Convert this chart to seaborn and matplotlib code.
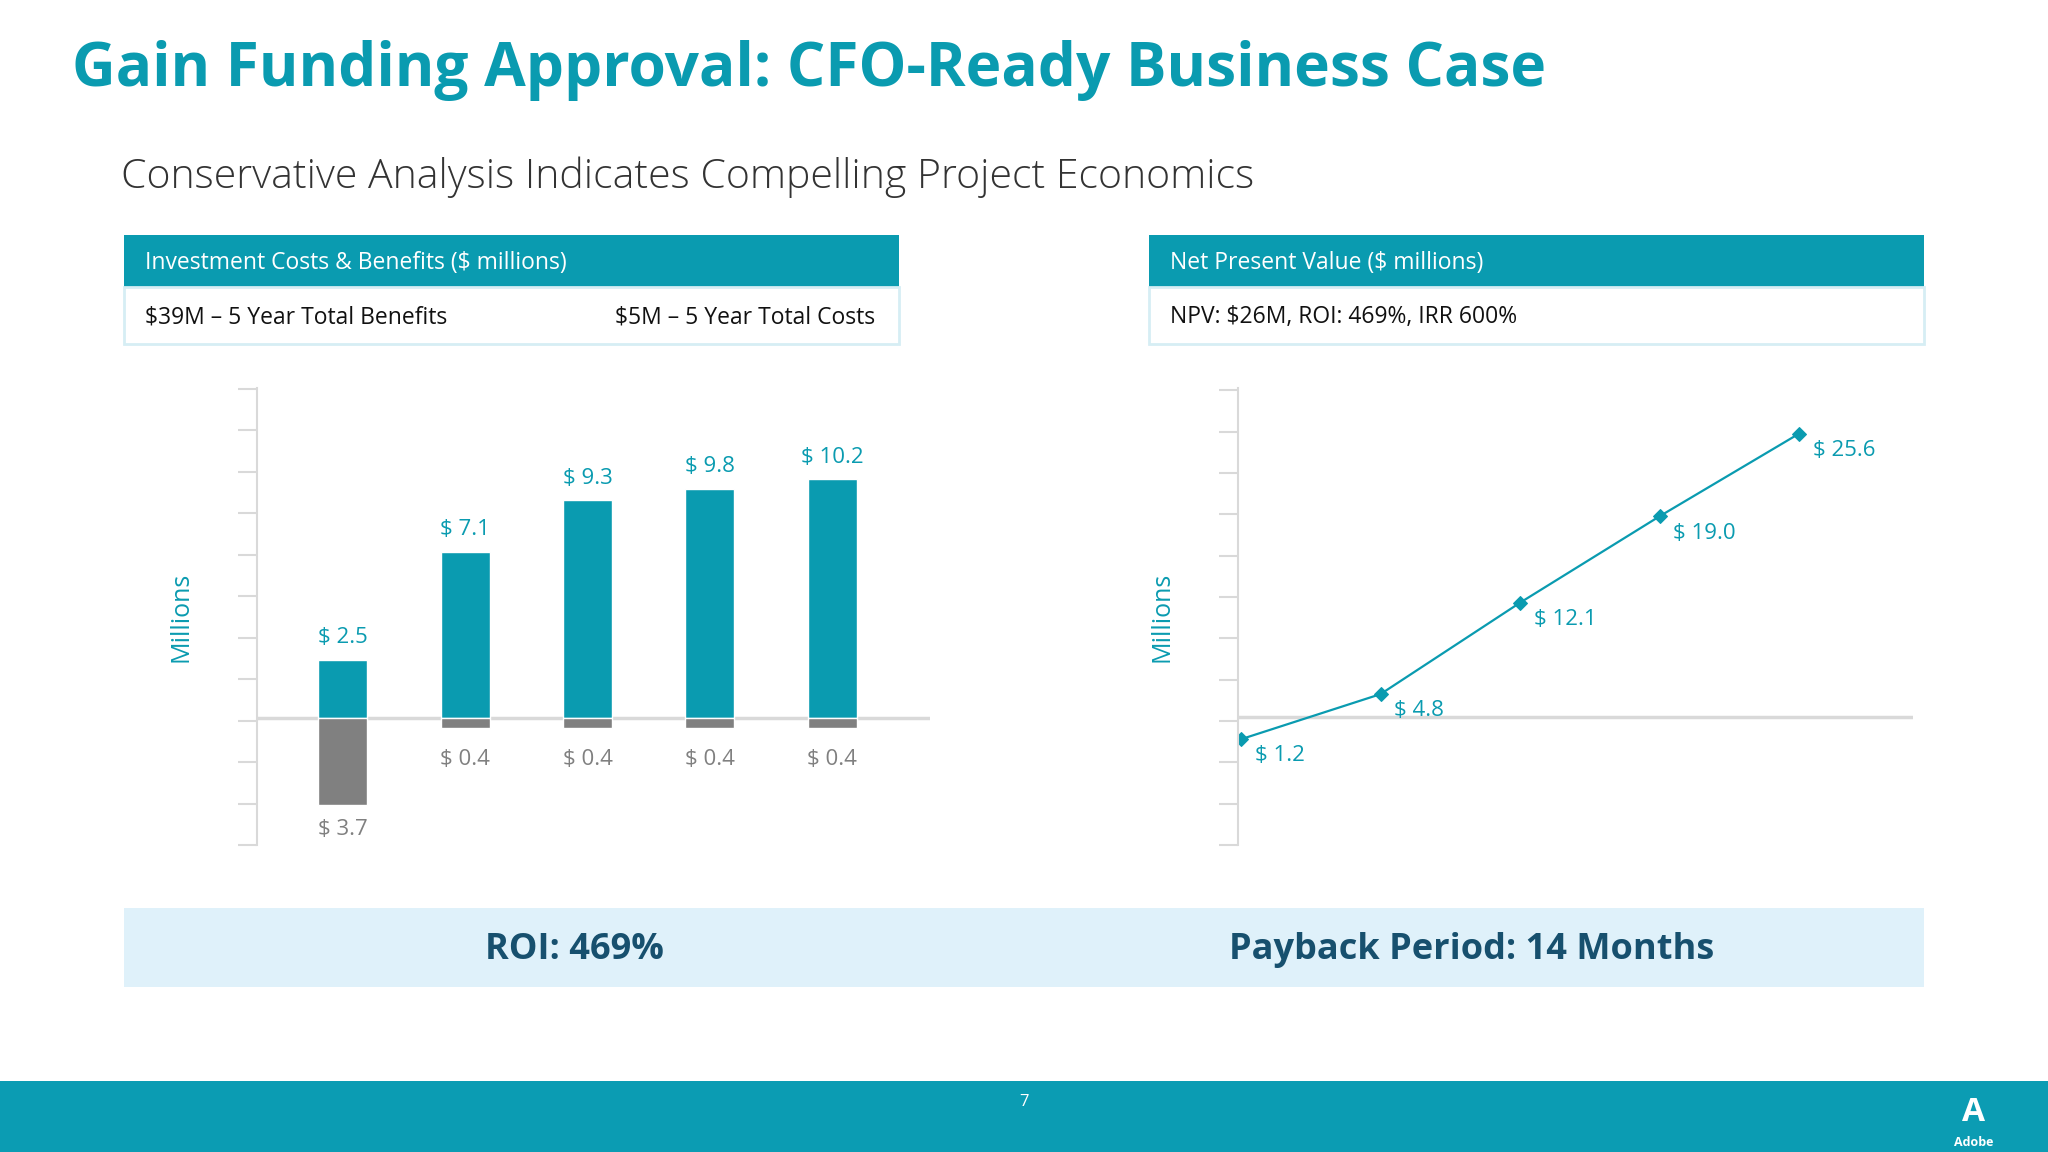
import matplotlib
matplotlib.use("Agg")
import matplotlib.pyplot as plt
import seaborn as sns
import pandas as pd
from matplotlib.patches import Rectangle

years = ["Y1", "Y2", "Y3", "Y4", "Y5"]
benefits = [2.5, 7.1, 9.3, 9.8, 10.2]
costs = [-3.7, -0.4, -0.4, -0.4, -0.4]
npv = [1.2, 4.8, 12.1, 19.0, 25.6]
npv_baseline = 3.0

TEAL = "#0a9bb0"
GREY = "#808080"
NAVY = "#17506e"
LINEC = "#d9d9d9"

sns.set_theme(style="white")
plt.rcParams['font.family'] = ['Open Sans', 'DejaVu Sans']

W, H = 1568, 882
fig = plt.figure(figsize=(20.48, 11.52), dpi=100)

def fx(x): return x / W
def fy(y): return 1 - y / H

fig.text(fx(55), fy(54), "Gain Funding Approval: CFO-Ready Business Case", color=TEAL,
         fontsize=43.5, fontweight="bold", va="center", ha="left")
fig.text(fx(93), fy(136), "Conservative Analysis Indicates Compelling Project Economics",
         color="#333333", fontsize=29.5, fontweight="light", va="center", ha="left")

def panel(x0, x1, title, left_txt, right_txt=None):
    fig.add_artist(Rectangle((fx(x0), fy(220)), fx(x1 - x0), fy(180) - fy(220),
                             transform=fig.transFigure, color=TEAL, lw=0))
    fig.add_artist(Rectangle((fx(x0), fy(263)), fx(x1 - x0), fy(220) - fy(263),
                             transform=fig.transFigure, facecolor="white",
                             edgecolor="#d6eef4", lw=2))
    fig.text(fx(x0 + 16), fy(201), title, color="white", fontsize=16.5, va="center")
    fig.text(fx(x0 + 16), fy(243), left_txt, color="#111111", fontsize=16.5, va="center")
    if right_txt:
        fig.text(fx(x1 - 18), fy(243), right_txt, color="#111111", fontsize=16.5,
                 va="center", ha="right")

panel(95, 688, "Investment Costs & Benefits ($ millions)",
      "$39M – 5 Year Total Benefits", "$5M – 5 Year Total Costs")
panel(880, 1473, "Net Present Value ($ millions)", "NPV: $26M, ROI: 469%, IRR 600%")

def style_axis(ax):
    for s in ["top", "right", "bottom"]:
        ax.spines[s].set_visible(False)
    ax.spines["left"].set_color(LINEC)
    ax.spines["left"].set_linewidth(1.5)
    ax.set_xticks([])
    ax.tick_params(axis="y", left=True, length=14, width=1.5, color=LINEC, labelleft=False)
    ax.set_xlabel("")
    ax.set_ylabel("Millions", color=TEAL, fontsize=18)
    ax.patch.set_alpha(0)

# Left chart
ax1 = fig.add_axes([fx(197), fy(647), fx(712 - 197), fy(297) - fy(647)])
df = pd.DataFrame({"year": years * 2, "val": benefits + costs,
                   "kind": ["b"] * 5 + ["c"] * 5})
sns.barplot(data=df, x="year", y="val", hue="kind", palette={"b": TEAL, "c": GREY},
            dodge=False, width=0.4, legend=False, ax=ax1, saturation=1)
ax1.set_xlim(-0.7, 4.8)
ax1.set_ylim(-5.4, 14.1)
ax1.set_yticks([-5.4 + i * 1.77 for i in range(12)])
ax1.axhline(0, color=LINEC, lw=2.5, zorder=0)
for i, (b, c) in enumerate(zip(benefits, costs)):
    ax1.text(i, b + 0.5, f"$ {b}", color=TEAL, ha="center", va="bottom", fontsize=16)
    ax1.text(i, c - (0.6 if c < -1 else 0.9), f"$ {abs(c)}", color=GREY, ha="center",
             va="top", fontsize=16)
style_axis(ax1)
ax1.yaxis.set_label_coords(-0.095, 0.5)

# Right chart
ax2 = fig.add_axes([fx(948), fy(647), fx(1465 - 948), fy(297) - fy(647)])
sns.lineplot(x=list(range(5)), y=npv, color=TEAL, marker="D", markersize=7,
             lw=1.6, ax=ax2, markeredgecolor=TEAL)
ax2.set_xlim(-0.02, 4.82)
ax2.set_ylim(-7.25, 29.25)
ax2.set_yticks([-7.25 + i * 3.3 for i in range(12)])
ax2.axhline(npv_baseline, color=LINEC, lw=2.5, zorder=0)
for i, v in enumerate(npv):
    ax2.text(i + 0.1, v - 0.5, f"$ {v}", color=TEAL, ha="left", va="top", fontsize=16)
style_axis(ax2)
ax2.yaxis.set_label_coords(-0.095, 0.5)

# Bottom band
fig.add_artist(Rectangle((fx(95), fy(756)), fx(1473 - 95), fy(695) - fy(756),
                         transform=fig.transFigure, color="#dff1fa", lw=0))
fig.text(fx(440), fy(727), "ROI: 469%", color=NAVY, fontsize=26, fontweight="bold",
         ha="center", va="center")
fig.text(fx(1127), fy(727), "Payback Period: 14 Months", color=NAVY, fontsize=26,
         fontweight="bold", ha="center", va="center")

# Footer
fig.add_artist(Rectangle((0, 0), 1, fy(828), transform=fig.transFigure,
                         color="#0b9cb3", lw=0))
fig.text(0.5, fy(844), "7", color="white", fontsize=12, ha="center", va="center")
fig.text(fx(1511), fy(852), "A", color="white", fontsize=24, fontweight="bold",
         ha="center", va="center")
fig.text(fx(1511), fy(875), "Adobe", color="white", fontsize=9, fontweight="bold",
         ha="center", va="center")

fig.savefig("out.png", dpi=100, facecolor="white")
